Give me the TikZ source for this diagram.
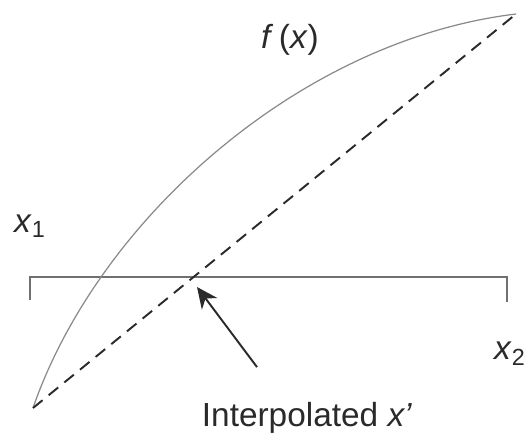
\documentclass[tikz,border=0pt]{standalone}
\usepackage{fontspec}
\setmainfont{Liberation Sans}
\usetikzlibrary{positioning, calc, arrows.meta}
\definecolor{ink}{HTML}{2A2A2A}
\definecolor{curve_gray}{HTML}{8A8A8A}
\definecolor{axis_gray}{HTML}{707070}

\begin{document}
\begin{tikzpicture}[
    x=0.02cm, y=-0.02cm,
    >=Stealth,
    font=\fontsize{19}{22}\selectfont,
    lbl/.style={text=ink, inner sep=0pt},
    fcurve/.style={draw=curve_gray, line width=0.7pt},
    chord/.style={draw=ink, line width=1.1pt, dash pattern=on 7pt off 4.5pt},
    axis/.style={draw=axis_gray, line width=0.8pt},
    pointer/.style={draw=ink, line width=1.1pt, -{Stealth[length=12pt,width=11pt]}}
]
\useasboundingbox (0,0) rectangle (528,442);

\coordinate (A) at (33,408);
\coordinate (B) at (516,14);
\coordinate (L) at (30,277);
\coordinate (R) at (507,277);
\coordinate (Tip) at (197,287);

% interval with end ticks
\draw[axis] ($(L)+(0,23)$) -- (L) -- (R) -- ($(R)+(0,25)$);

% function and linear interpolant
\draw[fcurve] (A) .. controls (98,220) and (300,40) .. (B);
\draw[chord] (A) -- (B);

\node[lbl] (x1) at (30,226) {\textit{x}\textsubscript{1}};
\node[lbl] (x2) at (510,354) {\textit{x}\textsubscript{2}};
\node[lbl] (fx) at (290,40) {\textit{f}\,(\textit{x})};
\node[lbl] (interp) at (307,418) {Interpolated \textit{x'}};

\draw[pointer] ($(interp.north)+(-50,-35)$) -- (Tip);

\end{tikzpicture}
\end{document}
